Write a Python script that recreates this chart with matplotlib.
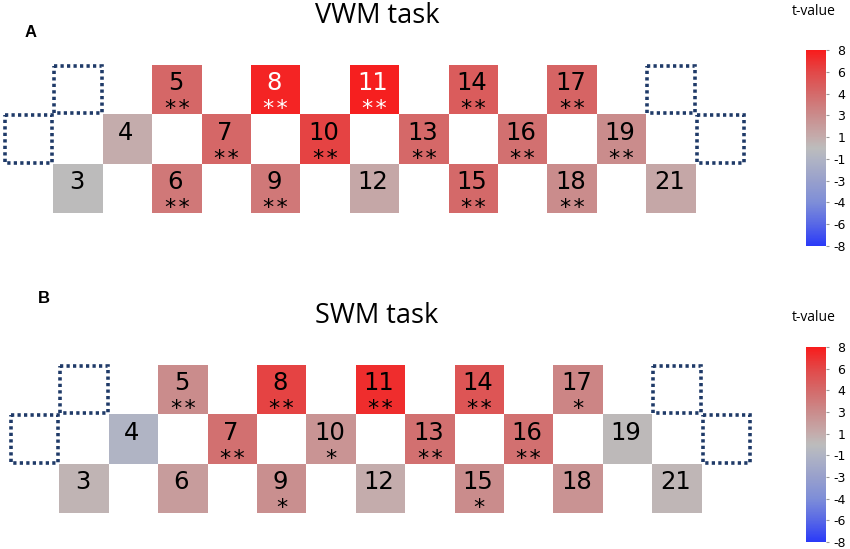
import numpy as np
import matplotlib
matplotlib.use("Agg")
import matplotlib.pyplot as plt
from matplotlib.colors import LinearSegmentedColormap, FuncNorm
from matplotlib.patches import Rectangle
import matplotlib.cm as cm

# ---------------- data ----------------
channels = [3, 4, 5, 6, 7, 8, 9, 10, 11, 12, 13, 14, 15, 16, 17, 18, 19, 21]
excluded = [1, 2, 20, 22]

vwm_t = [0.0, 1.0, 4.2, 3.6, 4.2, 7.6, 3.6, 6.2, 7.8, 1.3,
         4.1, 4.8, 4.0, 3.8, 4.3, 3.0, 3.0, 1.3]
vwm_sig = ["", "", "**", "**", "**", "**", "**", "**", "**", "",
           "**", "**", "**", "**", "**", "**", "**", ""]

swm_t = [0.5, -1.0, 3.0, 2.0, 3.8, 6.2, 2.8, 2.5, 7.2, 1.0,
         3.8, 5.2, 3.0, 3.8, 3.2, 2.6, 0.2, 0.4]
swm_sig = ["", "", "**", "", "**", "**", "*", "*", "**", "",
           "**", "**", "*", "**", "*", "", "", ""]

cbar_ticks = [-8, -6, -4, -3, -1, 1, 3, 4, 6, 8]
titles = ["VWM task", "SWM task"]
panel_labels = ["A", "B"]

# ---------------- style ----------------
W, H = 850, 549
cmap_nodes = ["#2a3af8", "#5868e6", "#7e8ed8", "#98a0cc", "#b0b4c4", "#bcbcbc",
              "#c4acac", "#ca8c8c", "#d46a6a", "#e24848", "#f81c1c"]
node_pos = [0, 1 / 9, 2 / 9, 3 / 9, 4 / 9, 0.5, 5 / 9, 6 / 9, 7 / 9, 8 / 9, 1]
cmap = LinearSegmentedColormap.from_list("tval", list(zip(node_pos, cmap_nodes)))
pos = np.arange(len(cbar_ticks))
norm = FuncNorm((lambda t: np.interp(t, cbar_ticks, pos),
                 lambda p: np.interp(p, pos, cbar_ticks)), vmin=-8, vmax=8)


def grid_pos(ch):
    k = ch - 3
    g, r = k // 3, k % 3
    return [1, 2, 3][r] + 2 * g, [2, 1, 0][r]


def fbox(x0, y0, x1, y1):
    return [x0 / W, 1 - y1 / H, (x1 - x0) / W, (y1 - y0) / H]


fig = plt.figure(figsize=(W / 100, H / 100), dpi=100)

panels = [
    dict(t=vwm_t, sig=vwm_sig, x0=4, top=65, title_y=23, lab=(31, 37),
         cb=(806, 50, 826, 246), tv_y=15),
    dict(t=swm_t, sig=swm_sig, x0=10, top=365, title_y=323, lab=(44, 303),
         cb=(806, 347, 826, 542), tv_y=321),
]
cw = 49.4

for i, p in enumerate(panels):
    ax = fig.add_axes(fbox(p["x0"], p["top"], p["x0"] + 15 * cw, p["top"] + 3 * cw))
    ax.set_xlim(0, 15)
    ax.set_ylim(3, 0)
    ax.axis("off")
    for ch in excluded:
        c, r = grid_pos(ch)
        ax.add_patch(Rectangle((c + 0.02, r + 0.02), 0.96, 0.96, fill=False,
                               ec="#1f3a68", lw=2.6, ls=(0, (0.9, 0.9)),
                               capstyle="butt", clip_on=False))
    for ch, t, s in zip(channels, p["t"], p["sig"]):
        c, r = grid_pos(ch)
        col = cmap(norm(t))
        ax.add_patch(Rectangle((c, r), 1, 1, fc=col, ec="none"))
        tc = "white" if t >= 7.5 else "black"
        ax.text(c + 0.47, r + 0.51, str(ch), ha="center", va="baseline",
                fontsize=17.5, color=tc, family="DejaVu Sans")
        if s:
            ax.text(c + 0.5, r + 1.02, "\u200a".join(s), ha="center",
                    va="baseline", fontsize=16, color=tc, family="DejaVu Sans")

    fig.text(377 / W, 1 - p["title_y"] / H, titles[i], ha="center",
             va="baseline", fontsize=19.5, family="Open Sans")
    fig.text(p["lab"][0] / W, 1 - p["lab"][1] / H, panel_labels[i], ha="center",
             va="baseline", fontsize=12, fontweight="bold",
             family="Liberation Sans")

    cax = fig.add_axes(fbox(*p["cb"]))
    sm = cm.ScalarMappable(norm=norm, cmap=cmap)
    cb = fig.colorbar(sm, cax=cax, ticks=cbar_ticks)
    cb.outline.set_visible(False)
    cb.set_ticklabels([str(v) for v in cbar_ticks])
    cax.tick_params(length=2.5, width=0.8, color="#999999", labelsize=9,
                    pad=11.5)
    for lbl in cax.get_yticklabels():
        lbl.set_horizontalalignment("right")
        lbl.set_family("DejaVu Sans")
    fig.text(814 / W, 1 - p["tv_y"] / H, "t-value", ha="center",
             va="baseline", fontsize=10, family="Open Sans")

fig.savefig("out.png", dpi=100)
